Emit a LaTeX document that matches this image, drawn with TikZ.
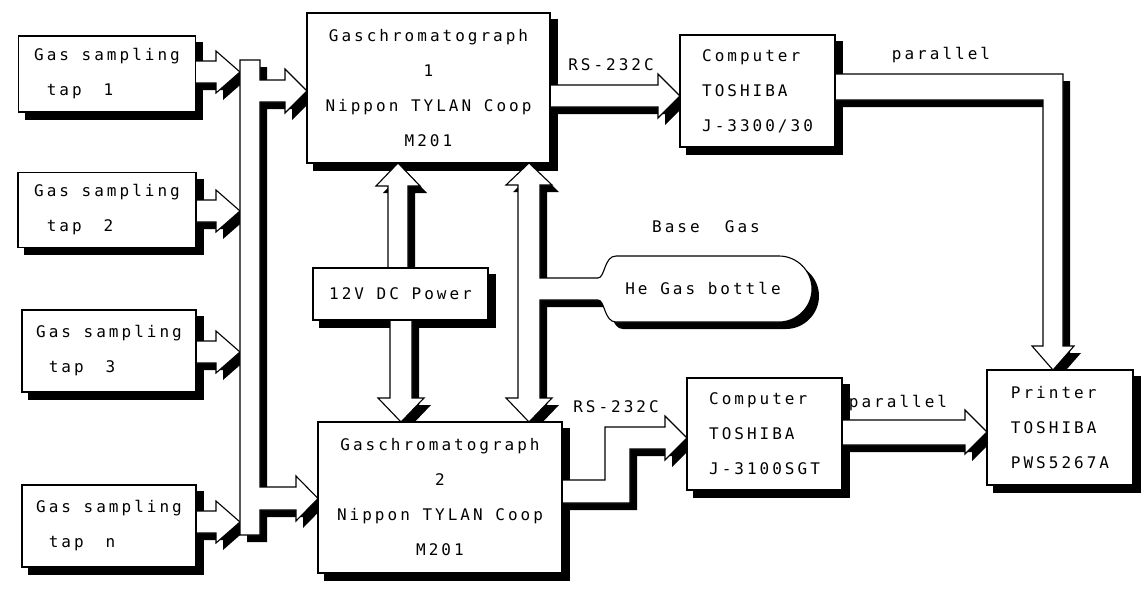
\documentclass[tikz,border=0pt]{standalone}
\usepackage{fontspec}
\newfontfamily\dm[LetterSpace=18.8]{DejaVu Sans Mono}
\pgfdeclarelayer{back}\pgfdeclarelayer{bg}\pgfdeclarelayer{mid}
\pgfsetlayers{back,bg,mid,main}
\tikzset{
 outl/.style={line width=1.1pt, line join=miter},
 box/.style={draw, fill=white, line width=1.1pt, inner sep=0pt, font=\dm\fontsize{16}{35}\selectfont, align=center},
 boxl/.style={box, align=left},
 lbl/.style={inner sep=0pt, font=\dm\fontsize{16}{20}\selectfont},
}
\newcommand\barrow[1]{%
 \begin{pgfonlayer}{bg}\fill[black,shift={(7,7)}] #1 -- cycle;\end{pgfonlayer}%
 \begin{pgfonlayer}{mid}\fill[white] #1 -- cycle;\draw[outl] #1;\end{pgfonlayer}}
\newcommand\barrowc[1]{%
 \begin{pgfonlayer}{bg}\fill[black,shift={(7,7)}] #1 -- cycle;\end{pgfonlayer}%
 \begin{pgfonlayer}{mid}\fill[white] #1 -- cycle;\draw[outl] #1 -- cycle;\end{pgfonlayer}}
\newcommand\bshadow[1]{%
 \begin{pgfonlayer}{bg}\fill[black] ([shift={(7,7)}]#1.north west) rectangle ([shift={(7,7)}]#1.south east);\end{pgfonlayer}}
\newcommand\taparrow[1]{\barrow{(196,#1-11) -- (216,#1-11) -- (216,#1-21) -- (240,#1) -- (216,#1+21) -- (216,#1+11) -- (196,#1+11)}}
\begin{document}
\begin{tikzpicture}[x=1pt,y=-1pt]
\useasboundingbox (0,0) rectangle (1145,589);
\begin{pgfonlayer}{back}\fill[white] (0,0) rectangle (1145,589);\end{pgfonlayer}

% boxes
\node[boxl, minimum width=177pt, minimum height=76pt] (tap1) at (107,74) {Gas sampling\\\hspace*{12.6pt}tap\hspace*{22pt}1};
\node[boxl, minimum width=178pt, minimum height=75pt] (tap2) at (107,210) {Gas sampling\\\hspace*{12.6pt}tap\hspace*{22pt}2};
\node[boxl, minimum width=174pt, minimum height=82pt] (tap3) at (109,351) {Gas sampling\\\hspace*{12.6pt}tap\hspace*{22pt}3};
\node[boxl, minimum width=174pt, minimum height=82pt] (tapn) at (109,526) {Gas sampling\\\hspace*{12.6pt}tap\hspace*{22pt}n};
\node[box, minimum width=243pt, minimum height=150pt] (gc1) at (428.5,88) {Gaschromatograph\\1\\Nippon TYLAN Coop\\M201};
\node[box, minimum width=244pt, minimum height=151pt] (gc2) at (440,497.5) {Gaschromatograph\\2\\Nippon TYLAN Coop\\M201};
\node[box, minimum width=175pt, minimum height=52pt] (pow) at (400.5,294) {12V DC Power};
\node[boxl, minimum width=155pt, minimum height=112pt] (comp1) at (757.5,91) {Computer\\TOSHIBA\\J-3300/30};
\node[boxl, minimum width=155pt, minimum height=112pt] (comp2) at (764.5,434) {Computer\\TOSHIBA\\J-3100SGT};
\node[boxl, minimum width=146pt, minimum height=115pt] (prn) at (1060,427.5) {Printer\\TOSHIBA\\PWS5267A};
\foreach \n in {tap1,tap2,tap3,tapn,gc1,gc2,pow,comp1,comp2,prn}{\bshadow{\n}}

% tap arrows and bus
\taparrow{72}
\taparrow{211}
\taparrow{352}
\taparrow{522}
\barrowc{(240,60) -- (260,60) -- (260,80) -- (285,80) -- (285,69) -- (307,91) -- (285,113) -- (285,102) -- (260,102) -- (260,487) -- (296,487) -- (296,476) -- (318,498.5) -- (296,521) -- (296,510) -- (260,510) -- (260,535) -- (240,535)}

% power arrows
\barrow{(388,268) -- (388,186) -- (376,186) -- (398,163) -- (420,186) -- (408,186) -- (408,268)}
\barrow{(390,320) -- (390,398) -- (378,398) -- (401,422) -- (424,398) -- (412,398) -- (412,320)}

% base gas T arrow
\barrow{(598,300) -- (540,300) -- (540,398) -- (552,398) -- (529,422) -- (506,398) -- (518,398) -- (518,185) -- (506,185) -- (529,163) -- (552,185) -- (540,185) -- (540,278) -- (598,278)}

% bottle
\def\bottlepath{(598,278) .. controls (605,278) and (604,256) .. (616,256) -- (779,256) .. controls (797,256) and (812,271) .. (812,289) .. controls (812,307) and (797,322) .. (779,322) -- (616,322) .. controls (604,322) and (605,300) .. (598,300)}
\begin{pgfonlayer}{bg}\fill[black,shift={(7,7)}] \bottlepath -- cycle;\end{pgfonlayer}
\begin{pgfonlayer}{mid}\fill[white] \bottlepath -- cycle;\draw[outl] \bottlepath;\end{pgfonlayer}
\node[lbl] (he) at (703,288) {He Gas bottle};
\node[lbl] (base) at (706,227) {Base\ \ Gas};

% RS-232C arrows
\barrow{(550,85) -- (658,85) -- (658,74) -- (680,96) -- (658,118) -- (658,107) -- (550,107)}
\barrow{(562,480) -- (605,480) -- (605,427) -- (665,427) -- (665,416) -- (687,438) -- (665,460) -- (665,449) -- (630,449) -- (630,503) -- (562,503)}
\node[lbl] (rs1) at (611,65) {RS-232C};
\node[lbl] (rs2) at (616,407) {RS-232C};

% parallel arrows
\barrow{(835,74) -- (1063,74) -- (1063,346) -- (1074,346) -- (1053,370) -- (1032,346) -- (1043,346) -- (1043,100) -- (835,100)}
\barrow{(842,420) -- (965,420) -- (965,410) -- (987,432) -- (965,454) -- (965,445) -- (842,445)}
\node[lbl] (par1) at (941,55) {parallel};
\node[lbl] (par2) at (898,403) {parallel};
\end{tikzpicture}
\end{document}
